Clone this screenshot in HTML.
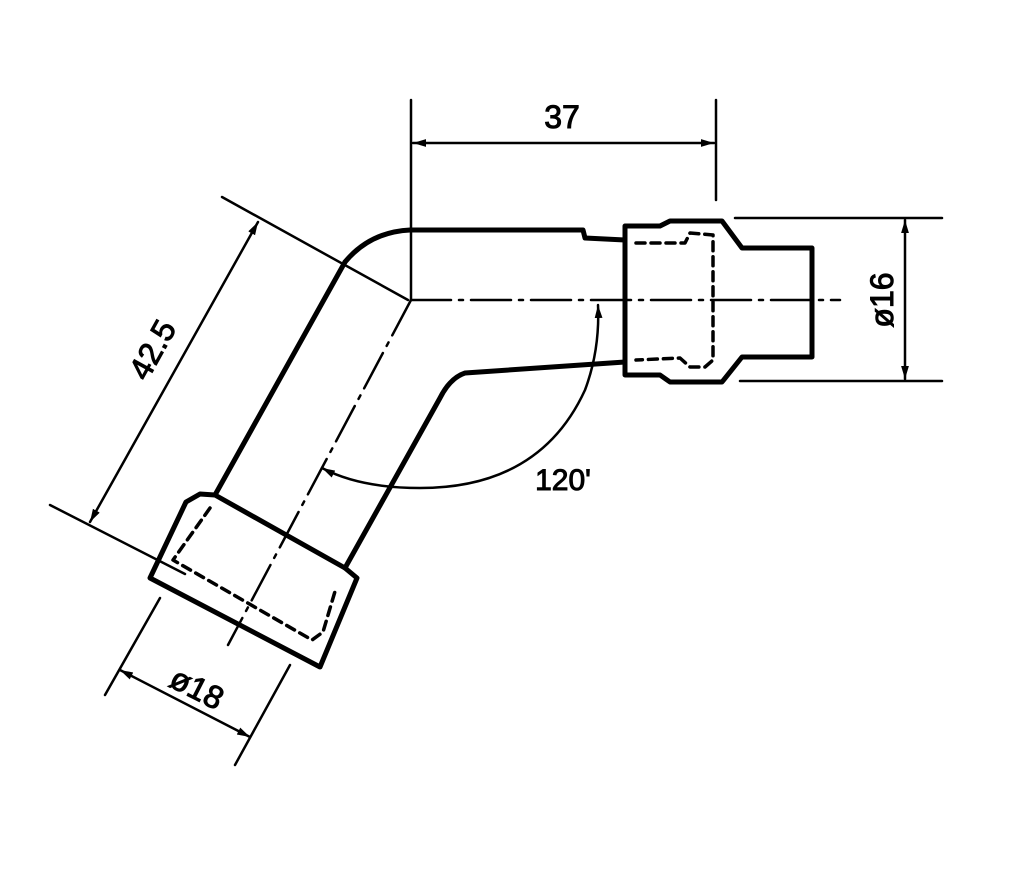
<!DOCTYPE html>
<html><head><style>html,body{margin:0;padding:0;background:#fff}svg{display:block}</style></head>
<body>
<svg width="1024" height="878" viewBox="0 0 1024 878" xmlns="http://www.w3.org/2000/svg">
<defs>
<marker id="a" viewBox="0 0 10 10" refX="10" refY="5" markerWidth="13" markerHeight="13" orient="auto-start-reverse" markerUnits="userSpaceOnUse"><path d="M0,2 L10,5 L0,8 z" fill="#000"/></marker>
</defs>
<g fill="none" stroke="#000" stroke-linecap="round" stroke-linejoin="round">
<line x1="411" y1="100" x2="411" y2="300" stroke-width="2.5"/>
<line x1="716" y1="100" x2="716" y2="200" stroke-width="2.5"/>
<line x1="413" y1="143" x2="714" y2="143" stroke-width="2.5" marker-start="url(#a)" marker-end="url(#a)"/>
<line x1="735" y1="218" x2="942" y2="218" stroke-width="2.5"/>
<line x1="740" y1="381" x2="942" y2="381" stroke-width="2.5"/>
<line x1="905" y1="220" x2="905" y2="379" stroke-width="2.5" marker-start="url(#a)" marker-end="url(#a)"/>
<line x1="411" y1="300" x2="840" y2="300" stroke-width="2.5" stroke-dasharray="40,8,4,8"/>
<line x1="411" y1="300" x2="228" y2="645" stroke-width="2.5" stroke-dasharray="40,8,4,8"/>
<path d="M345,262 Q370,232 410,230 L583,230 L585,238 L625,240" stroke-width="5"/>
<path d="M625,362 L465,373 Q450,378 440,398 L345,568" stroke-width="5"/>
<line x1="345" y1="262" x2="215" y2="495" stroke-width="5"/>
<path d="M625,226 L660,226 L670,221 L722,221 L742,248 L812,248 L812,357 L742,357 L722,382 L670,382 L660,375 L625,375 Z" stroke-width="5"/>
<path d="M636,243 L685,243 L690,233 L713,235 L713,360 L705,367 L690,367 L680,358 L636,360" stroke-width="3.5" stroke-dasharray="9,6"/>
<path d="M200,494 L215,495 L345,568 L357,578 L320,667 L150,578 L186,502 Z" stroke-width="5"/>
<path d="M210,508 L173,560 L312,640 L323,632 L336,588" stroke-width="3.5" stroke-dasharray="9,6"/>
<line x1="222" y1="197" x2="408" y2="300" stroke-width="2.5"/>
<line x1="50" y1="505" x2="185" y2="574" stroke-width="2.5"/>
<line x1="258" y1="222" x2="90" y2="522" stroke-width="2.5" marker-start="url(#a)" marker-end="url(#a)"/>
<line x1="160" y1="598" x2="105" y2="695" stroke-width="2.5"/>
<line x1="290" y1="665" x2="235" y2="765" stroke-width="2.5"/>
<line x1="120" y1="670" x2="250" y2="737" stroke-width="2.5" marker-start="url(#a)" marker-end="url(#a)"/>
<path d="M322,468 Q360,488 420,488 Q540,488 585,390 Q600,350 598,305" stroke-width="2.5" marker-start="url(#a)" marker-end="url(#a)"/>
</g>
<g font-family="Liberation Sans, sans-serif" font-size="32" fill="#000" stroke="#000" stroke-width="1">
<text x="562" y="128" text-anchor="middle">37</text>
<text transform="translate(893,300) rotate(-90)" text-anchor="middle">ø16</text>
<text transform="translate(162,355) rotate(-61)" text-anchor="middle">42.5</text>
<text transform="translate(192,698) rotate(27)" text-anchor="middle">ø18</text>
<text x="563" y="490" text-anchor="middle" font-size="30">120'</text>
</g>
</svg>
</body></html>
